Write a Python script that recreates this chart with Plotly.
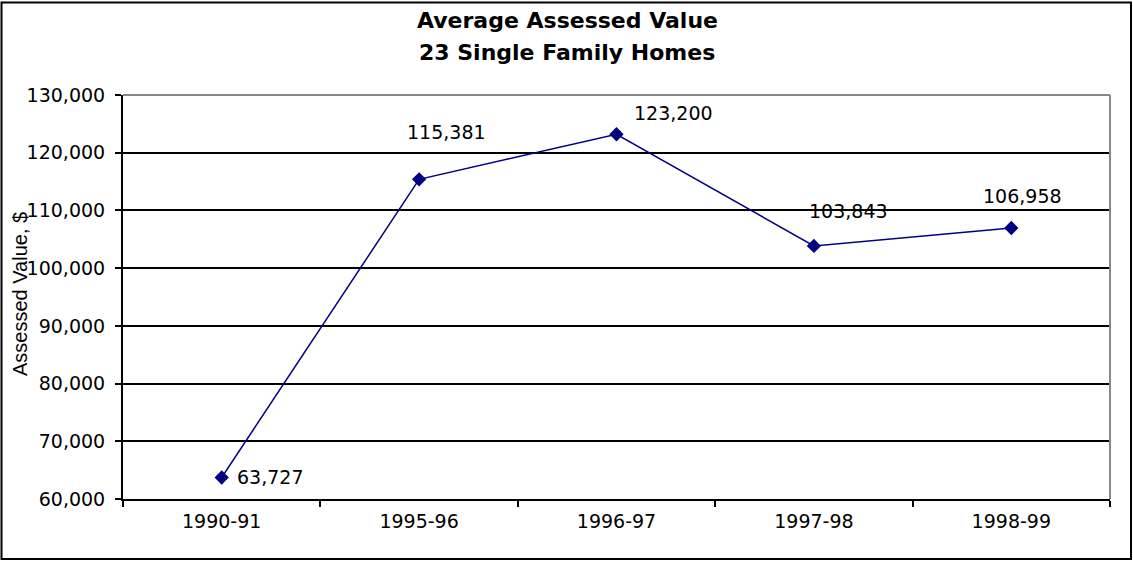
import plotly.graph_objects as go

years = ["1990-91", "1995-96", "1996-97", "1997-98", "1998-99"]
values = [63727, 115381, 123200, 103843, 106958]
label_text = ["63,727", "115,381", "123,200", "103,843", "106,958"]
label_dx = [48, 27, 57, 35, 11]
label_dy = [0, -47, -21, -35, -32]

W, H = 1133, 561
L, R, T, B = 123, 23, 95, 62
pw, ph = W - L - R, H - T - B

def px(xp):
    return (xp - L) / pw

def py(yp):
    return (T + ph - yp) / ph

TXT = "DejaVu Sans, Liberation Sans, Arial"

fig = go.Figure()
fig.add_trace(go.Scatter(
    x=years, y=values, mode="lines+markers",
    line=dict(color="#000080", width=1.5),
    marker=dict(symbol="diamond", size=11, color="#000080"),
    showlegend=False, hoverinfo="skip",
))

for x, y, t, dx, dy in zip(years, values, label_text, label_dx, label_dy):
    fig.add_annotation(x=x, y=y, text=t, showarrow=False, xshift=dx, yshift=-dy,
                       font=dict(family=TXT, size=19, color="#000"))

# title (two lines)
fig.add_annotation(xref="paper", yref="paper", x=px(567), y=py(20), text="<b>Average Assessed Value</b>",
                   showarrow=False, xanchor="center", yanchor="middle",
                   font=dict(family=TXT, size=22, color="#000"))
fig.add_annotation(xref="paper", yref="paper", x=px(567), y=py(53), text="<b>23 Single Family Homes</b>",
                   showarrow=False, xanchor="center", yanchor="middle",
                   font=dict(family=TXT, size=22, color="#000"))
# y axis title
fig.add_annotation(xref="paper", yref="paper", x=px(20), y=py(294), text="Assessed Value, $",
                   showarrow=False, textangle=-90, xanchor="center", yanchor="middle",
                   font=dict(family="Liberation Sans, Arial", size=20, color="#000"))

# top and right gray plot borders
fig.add_shape(type="line", xref="paper", yref="paper", x0=0, x1=1, y0=1, y1=1,
              line=dict(color="#888888", width=2), layer="above")
fig.add_shape(type="line", xref="paper", yref="paper", x0=1, x1=1, y0=0, y1=1,
              line=dict(color="#888888", width=2), layer="above")
# outer frame
fig.add_shape(type="rect", xref="paper", yref="paper",
              x0=px(1.5), x1=px(1131), y0=py(559), y1=py(2.5),
              line=dict(color="#000", width=2), fillcolor="rgba(0,0,0,0)")

fig.update_layout(
    width=W, height=H,
    margin=dict(l=L, r=R, t=T, b=B, autoexpand=False),
    paper_bgcolor="white", plot_bgcolor="white",
    font=dict(family=TXT, size=19, color="#000"),
    xaxis=dict(range=[-0.5, 4.5], tickson="boundaries", ticks="outside", ticklen=6,
               tickcolor="#000", tickwidth=2, showline=True, linecolor="#000", linewidth=2,
               showgrid=False, zeroline=False, tickfont=dict(family=TXT, size=19),
               ticklabelstandoff=4, automargin=False),
    yaxis=dict(range=[60000, 130000], dtick=10000, tickformat=",d", ticks="outside",
               ticklen=6, tickcolor="#000", tickwidth=2, showline=True, linecolor="#000",
               linewidth=2, showgrid=True, gridcolor="#000", gridwidth=1.5, zeroline=False,
               tickfont=dict(family=TXT, size=19), ticklabelstandoff=6, automargin=False),
)

fig.write_html("out.html", config={"displayModeBar": False},
               post_script="document.body.style.margin='0';")
